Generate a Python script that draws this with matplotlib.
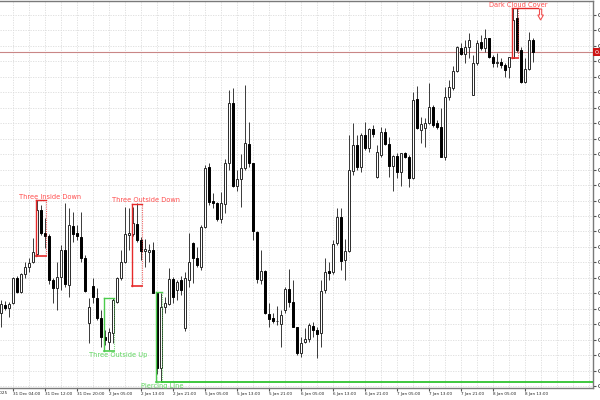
import numpy as np
import matplotlib.pyplot as plt
from matplotlib.patches import FancyArrow
import matplotlib.transforms as mtransforms


# H1 candles, oldest first
opens = [
    0.60087, 0.60095, 0.60092, 0.60097, 0.60122, 0.60108, 0.60126, 0.60133, 0.60138, 0.60146,
    0.60190, 0.60167, 0.60164, 0.60120, 0.60112, 0.60123, 0.60150, 0.60115, 0.60174, 0.60167,
    0.60163, 0.60142, 0.60077, 0.60114, 0.60102, 0.60082, 0.60063, 0.60058, 0.60067, 0.60098,
    0.60122, 0.60138, 0.60165, 0.60166, 0.60176, 0.60160, 0.60149, 0.60148, 0.60150, 0.60107,
    0.60032, 0.60093, 0.60096, 0.60121, 0.60110, 0.60120, 0.60072, 0.60120, 0.60157, 0.60142,
    0.60133, 0.60173, 0.60233, 0.60199, 0.60197, 0.60181, 0.60196, 0.60237, 0.60297, 0.60214,
    0.60221, 0.60232, 0.60256, 0.60237, 0.60168, 0.60120, 0.60129, 0.60086, 0.60082, 0.60079,
    0.60076, 0.60090, 0.60111, 0.60098, 0.60073, 0.60047, 0.60058, 0.60061, 0.60074, 0.60070,
    0.60067, 0.60110, 0.60129, 0.60128, 0.60157, 0.60183, 0.60140, 0.60149, 0.60229, 0.60255,
    0.60233, 0.60265, 0.60252, 0.60271, 0.60223, 0.60245, 0.60268, 0.60256, 0.60234, 0.60244,
    0.60228, 0.60247, 0.60243, 0.60222, 0.60301, 0.60270, 0.60272, 0.60277, 0.60293, 0.60277,
    0.60273, 0.60243, 0.60303, 0.60312, 0.60329, 0.60352, 0.60346, 0.60353, 0.60305, 0.60337,
    0.60358, 0.60352, 0.60362, 0.60343, 0.60337, 0.60338, 0.60335, 0.60333, 0.60342, 0.60382,
    0.60350, 0.60318, 0.60331, 0.60360,
]
highs = [
    0.60100, 0.60099, 0.60098, 0.60123, 0.60124, 0.60127, 0.60138, 0.60142, 0.60162, 0.60200,
    0.60195, 0.60182, 0.60166, 0.60122, 0.60138, 0.60155, 0.60197, 0.60192, 0.60188, 0.60175,
    0.60188, 0.60145, 0.60102, 0.60122, 0.60112, 0.60090, 0.60070, 0.60072, 0.60102, 0.60123,
    0.60150, 0.60193, 0.60192, 0.60193, 0.60197, 0.60163, 0.60161, 0.60156, 0.60158, 0.60108,
    0.60107, 0.60103, 0.60132, 0.60123, 0.60120, 0.60124, 0.60128, 0.60167, 0.60158, 0.60153,
    0.60175, 0.60235, 0.60237, 0.60207, 0.60198, 0.60208, 0.60241, 0.60310, 0.60312, 0.60230,
    0.60246, 0.60315, 0.60278, 0.60237, 0.60169, 0.60150, 0.60130, 0.60097, 0.60087, 0.60094,
    0.60090, 0.60113, 0.60131, 0.60120, 0.60073, 0.60063, 0.60072, 0.60077, 0.60078, 0.60073,
    0.60120, 0.60142, 0.60138, 0.60160, 0.60192, 0.60192, 0.60161, 0.60265, 0.60277, 0.60265,
    0.60267, 0.60278, 0.60272, 0.60275, 0.60255, 0.60273, 0.60272, 0.60263, 0.60245, 0.60247,
    0.60247, 0.60248, 0.60245, 0.60308, 0.60314, 0.60283, 0.60282, 0.60317, 0.60295, 0.60280,
    0.60292, 0.60313, 0.60320, 0.60334, 0.60354, 0.60357, 0.60360, 0.60367, 0.60345, 0.60360,
    0.60365, 0.60371, 0.60362, 0.60345, 0.60347, 0.60342, 0.60337, 0.60343, 0.60392, 0.60392,
    0.60353, 0.60342, 0.60368, 0.60362,
]
lows = [
    0.60073, 0.60090, 0.60083, 0.60096, 0.60107, 0.60107, 0.60122, 0.60128, 0.60137, 0.60144,
    0.60165, 0.60152, 0.60116, 0.60097, 0.60090, 0.60110, 0.60113, 0.60103, 0.60158, 0.60160,
    0.60138, 0.60108, 0.60057, 0.60097, 0.60080, 0.60053, 0.60055, 0.60050, 0.60057, 0.60097,
    0.60120, 0.60137, 0.60150, 0.60164, 0.60158, 0.60140, 0.60133, 0.60138, 0.60107, 0.60026,
    0.60018, 0.60087, 0.60095, 0.60097, 0.60100, 0.60105, 0.60069, 0.60113, 0.60117, 0.60133,
    0.60130, 0.60172, 0.60195, 0.60192, 0.60179, 0.60177, 0.60187, 0.60230, 0.60213, 0.60209,
    0.60193, 0.60230, 0.60233, 0.60160, 0.60117, 0.60116, 0.60086, 0.60073, 0.60077, 0.60075,
    0.60053, 0.60087, 0.60093, 0.60073, 0.60045, 0.60043, 0.60057, 0.60058, 0.60063, 0.60042,
    0.60053, 0.60107, 0.60120, 0.60126, 0.60155, 0.60130, 0.60120, 0.60148, 0.60225, 0.60230,
    0.60228, 0.60250, 0.60248, 0.60263, 0.60222, 0.60243, 0.60255, 0.60223, 0.60209, 0.60222,
    0.60214, 0.60242, 0.60213, 0.60221, 0.60271, 0.60257, 0.60253, 0.60276, 0.60273, 0.60271,
    0.60243, 0.60240, 0.60300, 0.60310, 0.60328, 0.60345, 0.60337, 0.60342, 0.60305, 0.60335,
    0.60350, 0.60348, 0.60342, 0.60333, 0.60333, 0.60332, 0.60323, 0.60322, 0.60342, 0.60348,
    0.60317, 0.60317, 0.60330, 0.60338,
]
closes = [
    0.60096, 0.60092, 0.60096, 0.60122, 0.60108, 0.60126, 0.60133, 0.60137, 0.60148, 0.60190,
    0.60167, 0.60164, 0.60120, 0.60112, 0.60123, 0.60150, 0.60116, 0.60175, 0.60166, 0.60164,
    0.60142, 0.60109, 0.60093, 0.60103, 0.60082, 0.60063, 0.60060, 0.60068, 0.60100, 0.60122,
    0.60138, 0.60166, 0.60167, 0.60177, 0.60160, 0.60149, 0.60151, 0.60150, 0.60107, 0.60032,
    0.60093, 0.60097, 0.60121, 0.60103, 0.60118, 0.60110, 0.60122, 0.60138, 0.60142, 0.60135,
    0.60173, 0.60232, 0.60198, 0.60197, 0.60181, 0.60197, 0.60237, 0.60297, 0.60214, 0.60221,
    0.60232, 0.60257, 0.60237, 0.60169, 0.60121, 0.60129, 0.60087, 0.60081, 0.60079, 0.60079,
    0.60085, 0.60111, 0.60098, 0.60073, 0.60047, 0.60057, 0.60061, 0.60075, 0.60070, 0.60066,
    0.60109, 0.60128, 0.60127, 0.60156, 0.60183, 0.60139, 0.60149, 0.60230, 0.60255, 0.60233,
    0.60265, 0.60252, 0.60271, 0.60266, 0.60248, 0.60268, 0.60256, 0.60234, 0.60244, 0.60228,
    0.60247, 0.60243, 0.60222, 0.60300, 0.60272, 0.60276, 0.60277, 0.60293, 0.60275, 0.60273,
    0.60243, 0.60303, 0.60313, 0.60329, 0.60353, 0.60346, 0.60353, 0.60360, 0.60337, 0.60357,
    0.60352, 0.60362, 0.60343, 0.60337, 0.60338, 0.60335, 0.60330, 0.60343, 0.60380, 0.60350,
    0.60318, 0.60331, 0.60360, 0.60348,
]

time_labels = [
    "31 Dec 04:00", "31 Dec 12:00", "31 Dec 20:00", "2 Jan 05:00", "2 Jan 13:00",
    "2 Jan 21:00", "5 Jan 05:00", "5 Jan 13:00", "5 Jan 21:00", "6 Jan 05:00",
    "6 Jan 13:00", "6 Jan 21:00", "7 Jan 05:00", "7 Jan 13:00", "7 Jan 21:00",
    "8 Jan 05:00", "8 Jan 13:00",
]
label_bars = [3, 11, 19, 27, 35, 43, 51, 59, 67, 75, 83, 91, 99, 107, 115, 123, 131]
first_label = "30 Dec 2025"

# candlestick patterns found
pattern_names = ["Three Inside Down", "Three Outside Down", "Three Outside Up",
                 "Piercing Line", "Dark Cloud Cover"]
pattern_first = [9, 33, 26, 39, 128]
pattern_last = [11, 35, 28, 40, 129]
pattern_top = [0.60200, 0.60196, 0.60102, 0.60108, 0.60392]
pattern_bottom = [0.60144, 0.60114, 0.60049, 0.60018, 0.60342]
pattern_bullish = [False, False, True, True, False]
pattern_label_x = [12.25, 36.25, 29.25, 40.25, 129.25]


RED = "#e62a2a"
RED_TXT = "#ff4d4d"
GREEN = "#4ccc4c"
GREEN_TXT = "#5fd65f"

fig = plt.figure(figsize=(6, 4), dpi=100)
ax = fig.add_axes([0, 0.03, 593 / 600, 0.9675])

o = np.array(opens)
h = np.array(highs)
l = np.array(lows)
c = np.array(closes)
x = np.arange(len(o))
up = c >= o

ax.vlines(x, l, h, color="#3a3a3a", lw=0.7, zorder=2)
ax.bar(x[up], (c - o)[up], bottom=o[up], width=0.5,
       facecolor="white", edgecolor="#2a2a2a", lw=0.7, zorder=3)
ax.bar(x[~up], (c - o)[~up], bottom=o[~up], width=0.5,
       facecolor="black", edgecolor="black", lw=0.7, zorder=3)

x_right = 148
ax.set_xlim(-0.25, x_right)
ax.set_ylim(0.60012, 0.60399)

# bid line
ax.axhline(closes[-1], color="#c98686", lw=0.8, zorder=1)

# pattern boxes and names
px = 0.00001
for name, f, la, top, bot, bull, lx in zip(pattern_names, pattern_first, pattern_last,
                                          pattern_top, pattern_bottom, pattern_bullish,
                                          pattern_label_x):
    col = GREEN if bull else RED
    x0, x1 = f - 0.2, la + 0.2
    ax.plot([x0, x0], [bot, top], color=col, lw=1.0, zorder=4)
    ax.plot([x0, x1], [top, top], color=col, lw=1.0, zorder=4)
    ax.plot([x0, x1], [bot, bot], color=col, lw=1.2, zorder=4)
    ax.plot([x1, x1], [bot, top], color=col, lw=0.8, ls=(0, (1, 1)), alpha=0.7, zorder=4)
    if bull:
        ax.text(lx, bot - 1.5 * px, name, color=GREEN_TXT, fontsize=4.8,
                ha="center", va="top", clip_on=False, zorder=5)
    else:
        ax.text(lx, top + 1.5 * px, name, color=RED_TXT, fontsize=4.8,
                ha="center", va="baseline", clip_on=False, zorder=5)

# piercing line level runs to the right edge
ax.plot([pattern_last[3] + 0.2, x_right], [pattern_bottom[3]] * 2,
        color="#2fc42f", lw=1.3, zorder=4)
# dark cloud level to the arrow
ax.plot([pattern_last[4] + 0.2, 134.3], [pattern_top[4]] * 2, color=RED, lw=1.0, zorder=4)
ax.add_patch(FancyArrow(134.9, 0.60391, 0, -0.00011, width=0.55, head_width=1.4,
                        head_length=0.00005, length_includes_head=True,
                        facecolor="white", edgecolor="#f05050", lw=0.8, zorder=5))

# axes look
for side in ["top", "right", "bottom"]:
    ax.spines[side].set_color("#7a7a7a")
    ax.spines[side].set_linewidth(1.0)
ax.spines["left"].set_visible(False)

yticks = 0.60385 - 0.0001546 * np.arange(25)
ax.yaxis.tick_right()
ax.set_yticks(yticks)
ax.set_yticklabels([f"{v:.5f}" for v in yticks])
ax.tick_params(axis="y", direction="out", length=2.2, pad=0.8, labelsize=4.6,
               color="#555555", labelcolor="black")

ax.set_xticks(label_bars)
ax.set_xticklabels(time_labels)
ax.set_xticks(np.arange(3, x_right, 4), minor=True)
ax.tick_params(axis="x", direction="out", length=2.2, pad=0.6, labelsize=3.0,
               color="#555555", labelcolor="#222222")
ax.tick_params(axis="x", which="minor", length=0)
for t in ax.get_xticklabels():
    t.set_ha("left")

fig.text(7 / 600, 0.0215, first_label, fontsize=3.0, ha="right", va="top", color="#222222")

ax.grid(True, which="both", axis="x", color="#dcdcdc", lw=0.6, ls=(0, (1.5, 1.5)), zorder=0)
ax.grid(True, which="major", axis="y", color="#dcdcdc", lw=0.6, ls=(0, (1.5, 1.5)), zorder=0)
ax.set_axisbelow(True)

# current price tag
tr = mtransforms.blended_transform_factory(ax.transAxes, ax.transData)
ax.text(1.003, closes[-1], f"{closes[-1]:.5f}", transform=tr, fontsize=4.6,
        color="white", ha="left", va="center", clip_on=False, zorder=6,
        bbox=dict(boxstyle="square,pad=0.25", fc="#cc1414", ec="none"))

fig.savefig("out.png", dpi=100)
